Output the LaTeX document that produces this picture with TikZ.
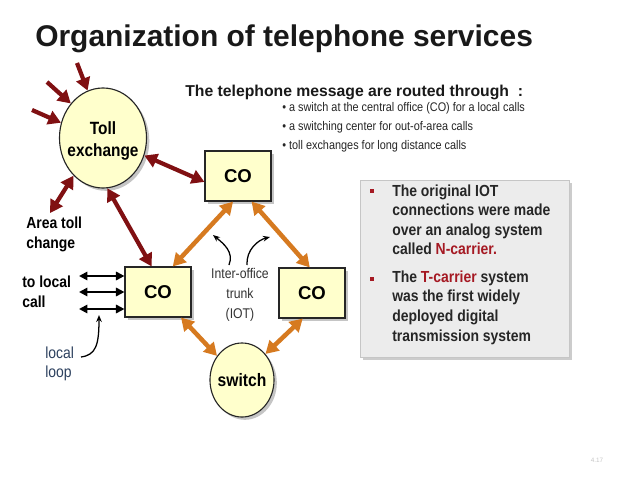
\documentclass[tikz,border=0pt]{standalone}
\usepackage{fontspec}
\setmainfont{Liberation Sans}
\newfontfamily\narrowfont[FakeStretch=0.87]{Liberation Sans}
\usetikzlibrary{arrows.meta,shapes.geometric,shadows}

\definecolor{tollred}{RGB}{128,16,18}
\definecolor{trunkorange}{RGB}{214,122,32}
\definecolor{nodefill}{RGB}{255,255,204}
\definecolor{notegray}{RGB}{236,236,236}
\definecolor{notered}{RGB}{165,25,35}
\definecolor{loopblue}{RGB}{45,65,95}

\begin{document}
\begin{tikzpicture}[x=0.025cm, y=-0.025cm,
    office/.style={draw=black!85, fill=nodefill, line width=0.8pt, minimum width=1.65cm, minimum height=1.25cm,
        drop shadow={opacity=0.45, shadow xshift=2pt, shadow yshift=-2pt}, font=\bfseries\fontsize{13.2}{15}\selectfont},
    exchange/.style={ellipse, draw=black!85, fill=nodefill, line width=0.8pt, inner sep=0pt,
        drop shadow={opacity=0.45, shadow xshift=2pt, shadow yshift=-2pt}},
    labelbold/.style={inner sep=0pt, align=left, font=\narrowfont\bfseries\fontsize{11.4}{14.2}\selectfont},
    redone/.style={tollred, line width=3pt, -{Triangle[length=9pt,width=10pt]}},
    redboth/.style={tollred, line width=3pt, {Triangle[length=9pt,width=10pt]}-{Triangle[length=9pt,width=10pt]}},
    orangeboth/.style={trunkorange, line width=3.2pt, {Triangle[length=9pt,width=10pt]}-{Triangle[length=9pt,width=10pt]}},
    blackboth/.style={black, line width=1.3pt, {Triangle[length=6pt,width=6pt]}-{Triangle[length=6pt,width=6pt]}},
    curvearrow/.style={black, line width=0.9pt, -{Stealth[length=5pt,width=4pt]}}
]
\useasboundingbox[fill=white] (0,0) rectangle (638,479);

% title and routing list
\node[anchor=base west, inner sep=0pt, font=\bfseries\fontsize{21.3}{25}\selectfont, text=black!90] (title) at (35,47) {Organization of telephone services};
\node[anchor=base west, inner sep=0pt, font=\bfseries\fontsize{11.2}{13}\selectfont, text=black!90] (routed) at (185,97) {The telephone message are routed through\ \ :};
\node[anchor=base west, inner sep=0pt, align=left, font=\narrowfont\fontsize{8.9}{13.5}\selectfont, text=black!85] (routes) at (282,149)
    {• a switch at the central office (CO) for a local calls\\
     • a switching center for out-of-area calls\\
     • toll exchanges for long distance calls};

% exchanges and offices
\node[exchange, minimum width=2.175cm, minimum height=2.5cm] (toll) at (103,138) {};
\node[inner sep=0pt, align=center, yshift=-2pt, font=\narrowfont\bfseries\fontsize{12.6}{15.6}\selectfont] (tollname) at (toll) {Toll\\exchange};
\node[office] (cotop) at (238,176) {CO};
\node[office] (coleft) at (158,292) {CO};
\node[office] (coright) at (312,293) {CO};
\node[exchange, minimum width=1.6cm, minimum height=1.85cm] (switch) at (242,380) {};
\node[inner sep=0pt, font=\narrowfont\bfseries\fontsize{12.8}{15}\selectfont] (switchname) at (switch) {switch};

% side labels
\node[labelbold, anchor=base west] (area) at (26,248) {Area toll\\change};
\node[labelbold, anchor=base west] (tolocal) at (22,307) {to local\\call};
\node[inner sep=0pt, align=left, anchor=base west, font=\narrowfont\fontsize{11.4}{13.5}\selectfont, text=loopblue] (loop) at (45,377) {local\\loop};
\node[inner sep=0pt, align=center, font=\narrowfont\fontsize{10}{14.2}\selectfont, text=black!80] (iot) at (240,295) {Inter-office\\trunk\\(IOT)};

% toll links
\coordinate (in1) at (77,63);
\coordinate (in2) at (47,82);
\coordinate (in3) at (32,110);
\coordinate (areatip) at (50,213);
\draw[redone] (in1) -- (toll.108);
\draw[redone] (in2) -- (toll.133);
\draw[redone] (in3) -- (toll.160);
\draw[redboth] (toll.-128) -- (areatip);
\draw[redboth] (toll.-23) -- (cotop.190);
\draw[redboth] (toll.-85) -- (coleft.104);

% inter-office trunks
\draw[orangeboth] (coleft.60) -- (cotop.259);
\draw[orangeboth] (cotop.-62) -- (coright.95);
\draw[orangeboth] (coleft.-48) -- (switch.136);
\draw[orangeboth] (coright.-110) -- (switch.48);

% local lines
\foreach \y/\n in {276/1, 292/2, 309/3} {
    \coordinate (line\n) at (79,\y);
    \draw[blackboth] (line\n) -- (line\n -| coleft.west);
}

% pointers
\coordinate (loopstart) at (81,357);
\coordinate (looptip) at (99,315);
\draw[curvearrow] (loopstart) .. controls (96,355) and (99,345) .. (looptip);
\coordinate (iotleft) at (229,265);
\coordinate (iotlefttip) at (213,235);
\draw[curvearrow] (iotleft) .. controls (234,252) and (224,244) .. (iotlefttip);
\coordinate (iotright) at (247,265);
\coordinate (iotrighttip) at (270,237);
\draw[curvearrow] (iotright) .. controls (246,250) and (258,240) .. (iotrighttip);

% note box
\node[draw=gray!45, fill=notegray, minimum width=5.225cm, minimum height=4.425cm,
    drop shadow={opacity=0.4, shadow xshift=2pt, shadow yshift=-2pt}] (note) at (464.5,268.5) {};
\node[fill=notered, minimum size=3pt, inner sep=0pt] (dot1) at (372,191) {};
\node[fill=notered, minimum size=3pt, inner sep=0pt] (dot2) at (372,279) {};
\node[anchor=base west, inner sep=0pt, align=left, font=\narrowfont\bfseries\fontsize{11.4}{13.9}\selectfont, text=black!85] (notetext) at (392,341)
    {The original IOT\\
     connections were made\\
     over an analog system\\
     called \textcolor{notered}{N-carrier.}\\[5.7pt]
     The \textcolor{notered}{T-carrier} system\\
     was the first widely\\
     deployed digital\\
     transmission system};

\node[inner sep=0pt, font=\fontsize{4.5}{5}\selectfont, text=gray!45] (page) at (597,460) {4.17};
\end{tikzpicture}
\end{document}
